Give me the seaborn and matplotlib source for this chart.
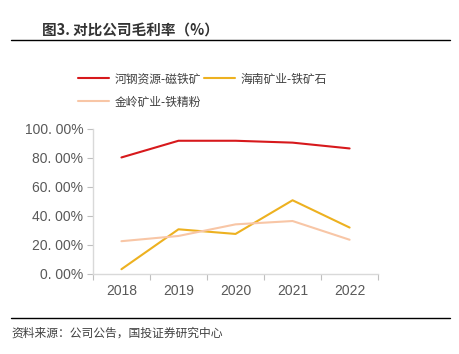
import pandas as pd
import seaborn as sns
import matplotlib.pyplot as plt
from matplotlib.lines import Line2D
from matplotlib.ticker import FixedLocator, FuncFormatter

years = ['2018', '2019', '2020', '2021', '2022']
hegang = [80.3, 91.8, 91.8, 90.5, 86.5]
hainan = [3.3, 30.8, 27.6, 50.8, 32.0]
jinling = [22.6, 26.2, 34.2, 36.5, 23.6]

series_names = ['河钢资源-磁铁矿', '海南矿业-铁矿石', '金岭矿业-铁精粉']
colors = ['#D7191C', '#EDB120', '#F8C6A6']

df = pd.DataFrame({
    'year': years * 3,
    'value': hegang + hainan + jinling,
    'series': [series_names[0]] * 5 + [series_names[1]] * 5 + [series_names[2]] * 5,
})

sns.set_theme(style='white')
plt.rcParams['font.family'] = ['Noto Sans CJK SC', 'DejaVu Sans']

fig = plt.figure(figsize=(4.6, 3.54), dpi=100)
ax = fig.add_axes([0.202, 0.226, 0.62, 0.41])

sns.lineplot(data=df, x='year', y='value', hue='series', palette=colors,
             hue_order=series_names, linewidth=1.5, legend=False, ax=ax)

ax.set_xlim(-0.5, 4.5)
ax.set_ylim(0, 100)
ax.set_yticks([0, 20, 40, 60, 80, 100])
ax.yaxis.set_major_formatter(FuncFormatter(lambda v, p: f'{v:.2f}%'.replace('.', '. ')))
ax.xaxis.set_major_locator(FixedLocator(range(5)))
ax.set_xticklabels(years)
ax.xaxis.set_minor_locator(FixedLocator([-0.5, 0.5, 1.5, 2.5, 3.5, 4.5]))
ax.tick_params(axis='x', which='major', bottom=True, length=0, pad=7, labelsize=10, colors='#595959')
ax.tick_params(axis='x', which='minor', bottom=True, length=4, width=0.8, color='#BFBFBF', direction='out')
ax.tick_params(axis='y', left=True, length=4, width=0.8, color='#BFBFBF', pad=3,
               labelsize=10, labelcolor='#595959', direction='out')
for lab in ax.get_xticklabels() + ax.get_yticklabels():
    lab.set_family('Liberation Sans')
ax.set_xlabel('')
ax.set_ylabel('')
for s in ['top', 'right']:
    ax.spines[s].set_visible(False)
for s in ['left', 'bottom']:
    ax.spines[s].set_color('#D9D9D9')
    ax.spines[s].set_linewidth(1.0)

# legend
handles = [Line2D([], [], color=c, lw=1.5) for c in colors]
fig.legend(handles[:2], series_names[:2], loc='upper left', bbox_to_anchor=(0.147, 0.825),
           ncol=2, frameon=False, fontsize=8.5, handlelength=2.6, handletextpad=0.45,
           columnspacing=0.3, labelcolor='#404040')
fig.legend(handles[2:], series_names[2:], loc='upper left', bbox_to_anchor=(0.147, 0.76),
           frameon=False, fontsize=8.5, handlelength=2.6, handletextpad=0.45, labelcolor='#404040')

# title and source
fig.text(0.091, 0.915, '图3. 对比公司毛利率（%）', fontsize=10.5, fontweight='bold',
         color='#333333', va='center')
fig.add_artist(Line2D([0.024, 0.978], [0.887, 0.887], color='black', lw=1.0))
fig.add_artist(Line2D([0.024, 0.978], [0.102, 0.102], color='black', lw=1.0))
fig.text(0.024, 0.058, '资料来源：公司公告，国投证券研究中心', fontsize=8.5,
         color='#404040', va='center', style='italic')

fig.savefig('out.png', dpi=100)
